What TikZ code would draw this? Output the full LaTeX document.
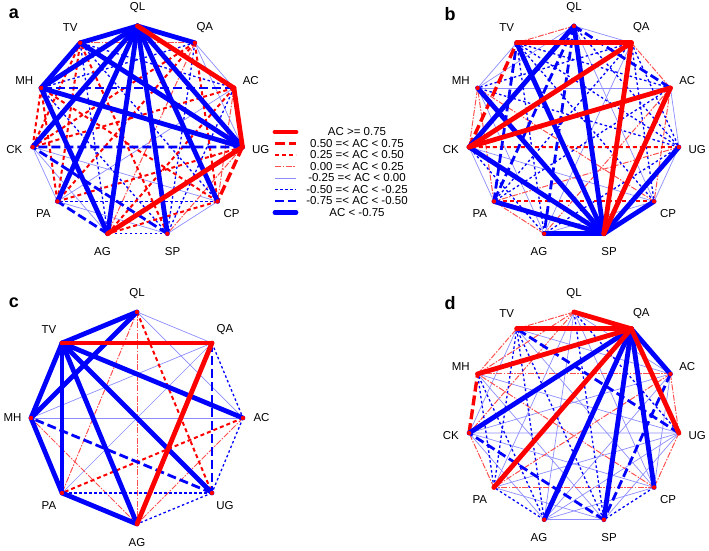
\documentclass[tikz,border=0pt]{standalone}
\usepackage{fontspec}
\setmainfont{Liberation Sans}
\usetikzlibrary{backgrounds}
\definecolor{acred}{RGB}{255,0,0}
\definecolor{acpink}{RGB}{255,80,80}
\definecolor{acblue}{RGB}{0,0,255}
\definecolor{acpale}{RGB}{140,140,255}
\tikzset{
  vdot/.style={circle,fill=acred,inner sep=0pt,minimum size=4.4pt},
  vlab/.style={font=\fontsize{11.5}{12}\selectfont,inner sep=0pt},
  plab/.style={font=\fontsize{18}{19}\selectfont\bfseries,inner sep=0pt},
  ltxt/.style={font=\fontsize{11.5}{12}\selectfont,inner sep=0pt},
  rA/.style={draw=acred,line width=4.8pt,line cap=round},
  rB/.style={draw=acred,line width=3.4pt,dash pattern=on 10pt off 4pt},
  rC/.style={draw=acred,line width=2pt,dash pattern=on 4pt off 3pt},
  rD/.style={draw=acpink,line width=1pt,dash pattern=on 6pt off 1.5pt on 1.5pt off 1.5pt},
  bD/.style={draw=acpale,line width=0.7pt},
  bC/.style={draw=acblue,line width=1.3pt,dash pattern=on 2.5pt off 2.5pt},
  bB/.style={draw=acblue,line width=2.8pt,dash pattern=on 9pt off 4pt},
  bA/.style={draw=acblue,line width=4.8pt,line cap=round},
}
\begin{document}
\begin{tikzpicture}[x=1pt,y=1pt]
\useasboundingbox (0,0) rectangle (709,551);
% Panel letters
\node[plab] (pa) at (14,537) {a};
\node[plab] (pb) at (450,537) {b};
\node[plab] (pc) at (14,248) {c};
\node[plab] (pd) at (450,248) {d};
% Vertices and vertex labels, panels a, b, d (11 traits)
\foreach \p/\cx/\cy in {a/137.5/419, b/574/419, d/574/133}{
  \foreach \v [count=\k from 0] in {QL,QA,AC,UG,CP,SP,AG,PA,CK,MH,TV}{
    \node[vdot] (\p\v) at ([shift={({90-\k*360/11}:106)}]\cx,\cy) {};
    \node[vlab] (l\p\v) at ([shift={({90-\k*360/11}:124.5)}]\cx,\cy) {\v};
  }
}
% Vertices and vertex labels, panel c (8 traits)
\foreach \v [count=\k from 0] in {QL,QA,AC,UG,AG,PA,MH,TV}{
  \node[vdot] (c\v) at ([shift={({90-\k*45}:106)}]137,133) {};
  \node[vlab] (lc\v) at ([shift={({90-\k*45}:124.5)}]137,133) {\v};
}
\begin{pgfonlayer}{background}
% Panel a: edges, thin first
\foreach \s/\u/\w in {bD/QA/AC, bD/QA/UG, bD/AC/PA, bD/CP/SP, bD/CP/CK, bD/SP/PA, bD/AG/CK, bD/PA/CK,
  rD/QA/AG, rD/QA/TV, rD/AC/CP, rD/UG/SP,
  bC/QA/SP, bC/QA/MH, bC/AC/SP, bC/AC/TV, bC/CP/PA, bC/CP/TV, bC/SP/AG, bC/SP/MH, bC/AG/TV,
  rC/QA/CP, rC/QA/PA, rC/QA/CK, rC/AC/AG, rC/AC/CK, rC/UG/PA, rC/CP/AG, rC/CP/MH, rC/SP/TV, rC/PA/MH, rC/PA/TV, rC/CK/MH, rC/CK/TV,
  bB/AC/MH, bB/UG/CK, bB/SP/CK, bB/AG/PA,
  rB/UG/CP,
  bA/QL/QA, bA/QL/UG, bA/QL/CP, bA/QL/SP, bA/QL/AG, bA/QL/PA, bA/QL/CK, bA/QL/MH, bA/QL/TV, bA/UG/MH, bA/UG/TV, bA/AG/MH, bA/MH/TV,
  rA/QL/AC, rA/AC/UG, rA/UG/AG}
  \draw[\s] (a\u.center) -- (a\w.center);
% Panel b: edges
\foreach \s/\u/\w in {bD/QL/QA, bD/QL/CP, bD/QL/MH, bD/QA/AG, bD/AC/UG, bD/AC/MH, bD/UG/CP, bD/CP/AG, bD/CP/CK, bD/AG/MH, bD/PA/CK, bD/MH/TV,
  rD/QL/TV, rD/QA/AC, rD/AC/CP, rD/AC/AG, rD/UG/PA, rD/CP/MH, rD/AG/PA, rD/PA/MH, rD/CK/MH,
  bC/QL/UG, bC/QA/UG, bC/QA/CP, bC/QA/PA, bC/QA/MH, bC/AC/PA, bC/AC/TV, bC/UG/AG, bC/UG/MH, bC/UG/TV, bC/CP/TV, bC/AG/CK, bC/AG/TV,
  rC/UG/CK, rC/CP/PA,
  bB/QL/AC, bB/QL/AG, bB/QL/PA, bB/PA/TV,
  rB/CK/TV,
  bA/QL/SP, bA/QL/CK, bA/UG/SP, bA/CP/SP, bA/SP/AG, bA/SP/PA, bA/SP/CK, bA/SP/MH, bA/SP/TV,
  rA/QA/SP, rA/QA/CK, rA/QA/TV, rA/AC/SP, rA/AC/CK}
  \draw[\s] (b\u.center) -- (b\w.center);
% Panel c: edges
\foreach \s/\u/\w in {bD/QL/QA, bD/QL/AC, bD/QA/PA, bD/QA/MH, bD/AC/MH,
  rD/QL/AG, rD/QL/PA, rD/AC/AG, rD/AG/MH,
  bC/QA/AC, bC/AC/UG, bC/UG/AG, bC/UG/PA,
  rC/QL/UG, rC/AC/PA,
  bB/UG/MH, bB/QA/UG,
  bA/QL/TV, bA/QL/MH, bA/TV/AC, bA/TV/UG, bA/TV/AG, bA/TV/PA, bA/TV/MH, bA/AG/PA, bA/PA/MH,
  rA/TV/QA, rA/QA/AG}
  \draw[\s] (c\u.center) -- (c\w.center);
% Panel d: edges
\foreach \s/\u/\w in {bD/QL/AC, bD/QL/CP, bD/QL/AG, bD/QL/PA, bD/AC/CP, bD/AC/AG, bD/AC/CK, bD/AC/TV, bD/UG/SP, bD/UG/AG, bD/UG/PA,
  bD/UG/CK, bD/UG/MH, bD/CP/AG, bD/CP/CK, bD/CP/TV, bD/SP/AG, bD/SP/PA, bD/SP/MH, bD/AG/CK, bD/CK/TV,
  rD/QL/CK, rD/QL/MH, rD/QL/TV, rD/AC/UG, rD/AC/PA, rD/AC/MH, rD/UG/CP, rD/CP/PA, rD/CP/MH, rD/PA/CK, rD/MH/TV,
  bC/QL/UG, bC/QL/SP, bC/CP/SP, bC/SP/TV, bC/AG/PA, bC/AG/MH, bC/AG/TV, bC/PA/MH, bC/PA/TV,
  bB/AC/SP, bB/UG/TV, bB/SP/CK,
  rB/CK/MH,
  bA/QA/AC, bA/QA/CP, bA/QA/SP, bA/QA/AG, bA/QA/CK,
  rA/QL/QA, rA/QA/UG, rA/QA/PA, rA/QA/MH, rA/QA/TV}
  \draw[\s] (d\u.center) -- (d\w.center);
\end{pgfonlayer}
% Legend
\foreach \s/\t [count=\i] in {rA/{AC >= 0.75}, rB/{0.50 =< AC < 0.75}, rC/{0.25 =< AC < 0.50}, rD/{0.00 =< AC < 0.25},
  bD/{-0.25 =< AC < 0.00}, bC/{-0.50 =< AC < -0.25}, bB/{-0.75 =< AC < -0.50}, bA/{AC < -0.75}}{
  \coordinate (lgs\i) at (275,{430.5-\i*11.5});
  \coordinate (lge\i) at (296,{430.5-\i*11.5});
  \draw[\s] (lgs\i) -- (lge\i);
  \node[ltxt] (lgt\i) at (357,{430.5-\i*11.5}) {\t};
}
\end{tikzpicture}
\end{document}
